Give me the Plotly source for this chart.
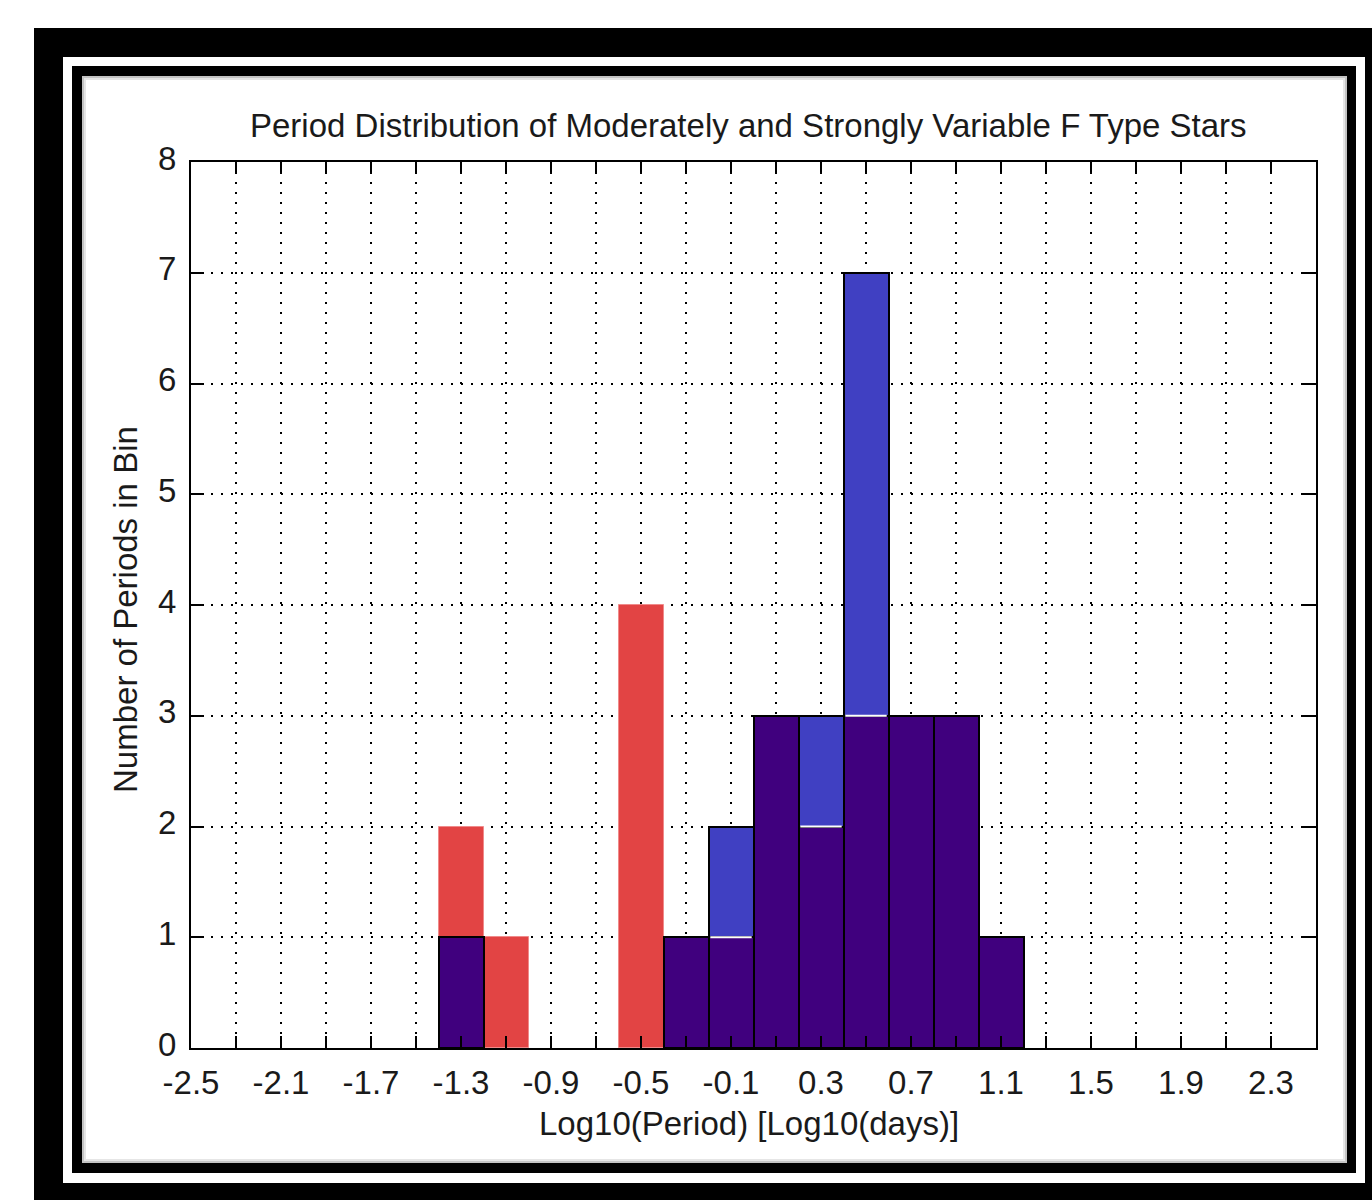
import plotly.graph_objects as go

# ---- data ----
red_x = [-1.3, -1.1, -0.5]
red_counts = [2, 1, 4]
blue_x = [-0.1, 0.3, 0.5]
blue_counts = [2, 3, 7]
purple_x = [-1.3, -0.3, -0.1, 0.1, 0.3, 0.5, 0.7, 0.9, 1.1]
purple_counts = [1, 1, 1, 3, 2, 3, 3, 3, 1]
bin_width = 0.2

x_ticks = [round(-2.5 + 0.2 * i, 1) for i in range(26)]
x_tick_labels = ["-2.5", "-2.1", "-1.7", "-1.3", "-0.9", "-0.5", "-0.1", "0.3",
                 "0.7", "1.1", "1.5", "1.9", "2.3"]
y_ticks = [0, 1, 2, 3, 4, 5, 6, 7, 8]

title_text = "Period Distribution of Moderately and Strongly Variable F Type Stars"
x_title = "Log10(Period) [Log10(days)]"
y_title = "Number of Periods in Bin"

# ---- geometry (pixels) ----
W, H = 1372, 1200
L, R, T, B = 191, 1316, 162, 1048
PW, PH = R - L, B - T


def px(x):
    return (x - L) / PW


def py(y):
    return (B - y) / PH


FONT = "Liberation Sans"
TXT = "#1a1a1a"
FS = 33

fig = go.Figure()

fig.add_trace(go.Bar(x=red_x, y=red_counts, width=bin_width,
                     marker=dict(color="#E24444", line=dict(color="#F08A8A", width=1))))
fig.add_trace(go.Bar(x=blue_x, y=blue_counts, width=bin_width,
                     marker=dict(color="#4040C2", line=dict(color="black", width=2))))
fig.add_trace(go.Bar(x=purple_x, y=purple_counts, width=bin_width,
                     marker=dict(color="#40007E", line=dict(color="black", width=2))))

# white separator where blue bar extends above purple bar
blue_map = dict(zip(blue_x, blue_counts))
sx, sy = [], []
for xc, pc in zip(purple_x, purple_counts):
    if blue_map.get(xc, 0) > pc:
        sx += [xc - bin_width / 2 + 0.008, xc + bin_width / 2 - 0.008, None]
        sy += [pc, pc, None]
fig.add_trace(go.Scatter(x=sx, y=sy, mode="lines", line=dict(color="white", width=2),
                         hoverinfo="skip"))

# frame decoration
shapes = []
def rect(x0, y0, x1, y1, color):
    shapes.append(dict(type="rect", xref="paper", yref="paper", layer="below",
                       x0=px(x0), x1=px(x1), y0=py(y1), y1=py(y0),
                       fillcolor=color, line=dict(width=0)))

rect(34, 28, 1380, 1210, "black")
rect(63, 57, 1365, 1183, "white")
rect(72, 66, 1356, 1173, "black")
rect(82, 76, 1347, 1163, "#c4c4c4")
rect(84, 78, 1345, 1161, "#e6e6e6")
rect(86, 80, 1343, 1159, "white")

annotations = [
    dict(text=title_text, xref="paper", yref="paper", x=px(748), y=py(126),
         showarrow=False, font=dict(family=FONT, size=FS, color=TXT),
         xanchor="center", yanchor="middle"),
    dict(text=x_title, xref="paper", yref="paper", x=px(749), y=py(1123),
         showarrow=False, font=dict(family=FONT, size=FS, color=TXT),
         xanchor="center", yanchor="middle"),
    dict(text=y_title, xref="paper", yref="paper", x=px(125), y=py(610),
         showarrow=False, textangle=-90, font=dict(family=FONT, size=FS, color=TXT),
         xanchor="center", yanchor="middle"),
]

fig.update_layout(
    width=W, height=H,
    margin=dict(l=L, r=W - R, t=T, b=H - B),
    paper_bgcolor="white",
    plot_bgcolor="rgba(0,0,0,0)",
    barmode="overlay",
    bargap=0,
    showlegend=False,
    shapes=shapes,
    annotations=annotations,
)

fig.update_xaxes(
    range=[-2.5, 2.5], tickmode="array", tickvals=x_ticks,
    ticktext=[x_tick_labels[i // 2] if i % 2 == 0 and i // 2 < len(x_tick_labels) else ""
              for i in range(len(x_ticks))],
    ticks="inside", ticklen=12, tickwidth=2, tickcolor="black",
    showline=True, linecolor="black", linewidth=2, mirror="ticks",
    showgrid=True, gridcolor="black", gridwidth=2, griddash="2px,8px",
    zeroline=False, ticklabelstandoff=4,
    tickfont=dict(family=FONT, size=FS, color=TXT),
)
fig.update_yaxes(
    range=[0, 8], tickmode="array", tickvals=y_ticks,
    ticktext=[str(v) for v in y_ticks],
    ticks="inside", ticklen=13, tickwidth=2, tickcolor="black",
    showline=True, linecolor="black", linewidth=2, mirror="ticks",
    showgrid=True, gridcolor="black", gridwidth=2, griddash="2px,8px",
    zeroline=False, ticklabelstandoff=6, ticklabelshift=-4,
    tickfont=dict(family=FONT, size=FS, color=TXT),
)

fig.write_html("out.html")
